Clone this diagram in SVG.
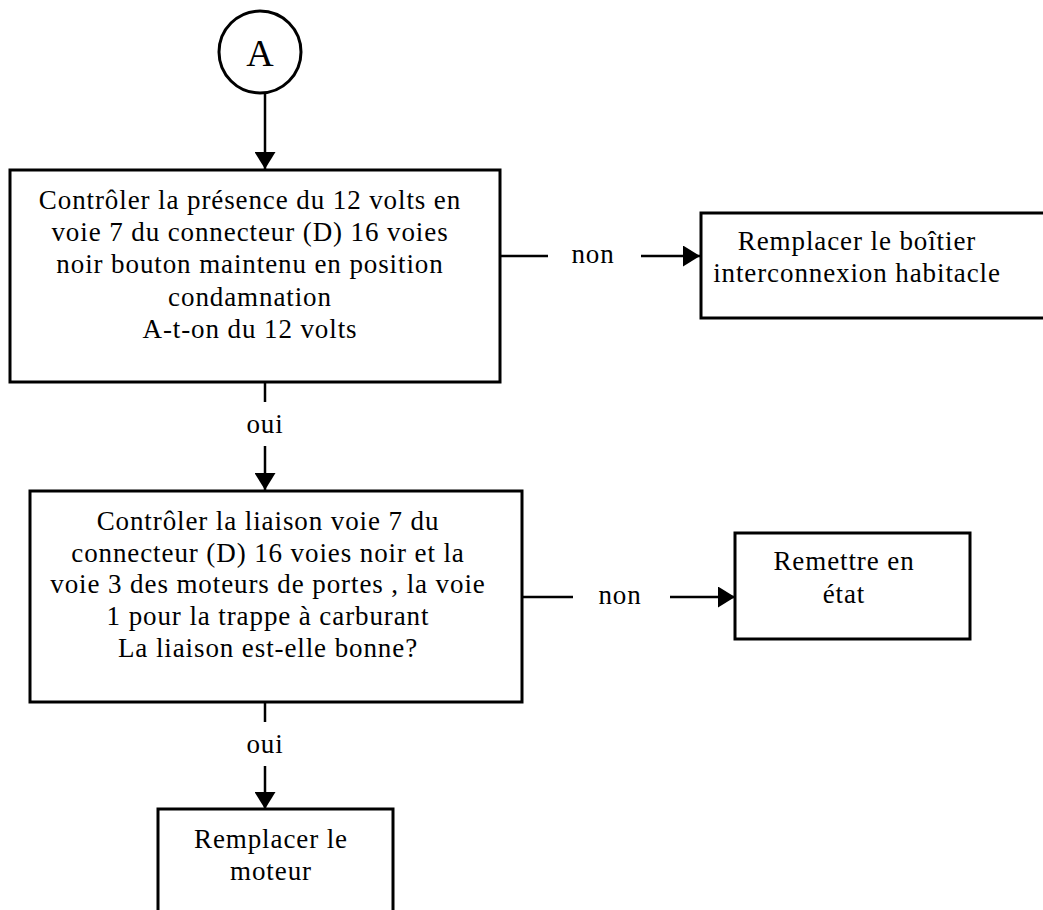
<svg xmlns="http://www.w3.org/2000/svg" width="1043" height="910" viewBox="0 0 1043 910">
<defs>
<style>
.box{fill:#fff;stroke:#000;stroke-width:3}
.ln{fill:none;stroke:#000;stroke-width:2.5}
text{font-family:"Liberation Serif","Times New Roman",serif;font-size:27px;letter-spacing:0.9px;fill:#000;text-anchor:middle}
</style>
<marker id="ahv" markerWidth="17" markerHeight="21" refX="17" refY="10.5" orient="auto" markerUnits="userSpaceOnUse" viewBox="0 0 17 21">
<path d="M0,0 L17,10.5 L0,21 z" fill="#000"/>
</marker>
</defs>
<rect width="1043" height="910" fill="#fff"/>
<g id="connectors">
<line class="ln" x1="265" y1="85" x2="265" y2="169" marker-end="url(#ahv)"/>
<line class="ln" x1="500" y1="256" x2="548" y2="256"/>
<text x="593" y="263">non</text>
<line class="ln" x1="641" y1="256" x2="700" y2="256" marker-end="url(#ahv)"/>
<line class="ln" x1="265" y1="382" x2="265" y2="402"/>
<text x="265" y="433">oui</text>
<line class="ln" x1="265" y1="446" x2="265" y2="490" marker-end="url(#ahv)"/>
<line class="ln" x1="522" y1="597" x2="573" y2="597"/>
<text x="620" y="604">non</text>
<line class="ln" x1="670" y1="597" x2="735" y2="597" marker-end="url(#ahv)"/>
<line class="ln" x1="265" y1="702" x2="265" y2="722"/>
<text x="265" y="753">oui</text>
<line class="ln" x1="265" y1="766" x2="265" y2="809" marker-end="url(#ahv)"/>
</g>
<g id="nodeA">
<circle cx="260" cy="52" r="41" fill="#fff" stroke="#000" stroke-width="3"/>
<text x="260" y="66" style="font-size:38px;letter-spacing:0">A</text>
</g>
<g id="node1">
<rect class="box" x="10" y="170" width="490" height="212"/>
<text x="250" y="209">Contrôler la présence du 12 volts en</text>
<text x="250" y="241">voie 7 du connecteur (D) 16 voies</text>
<text x="250" y="273">noir bouton maintenu en position</text>
<text x="250" y="306">condamnation</text>
<text x="250" y="338">A-t-on du 12 volts</text>
</g>
<g id="node2">
<rect class="box" x="701" y="213" width="360" height="105"/>
<text x="857" y="250">Remplacer le boîtier</text>
<text x="857" y="282">interconnexion habitacle</text>
</g>
<g id="node3">
<rect class="box" x="30" y="491" width="492" height="211"/>
<text x="268" y="530">Contrôler la liaison voie 7 du</text>
<text x="268" y="562">connecteur (D) 16 voies noir et la</text>
<text x="268" y="593">voie 3 des moteurs de portes , la voie</text>
<text x="268" y="625">1 pour la trappe à carburant</text>
<text x="268" y="657">La liaison est-elle bonne?</text>
</g>
<g id="node4">
<rect class="box" x="735" y="533" width="235" height="106"/>
<text x="844" y="570">Remettre en</text>
<text x="844" y="603">état</text>
</g>
<g id="node5">
<rect class="box" x="158" y="809" width="235" height="120"/>
<text x="271" y="848">Remplacer le</text>
<text x="271" y="880">moteur</text>
</g>
</svg>
